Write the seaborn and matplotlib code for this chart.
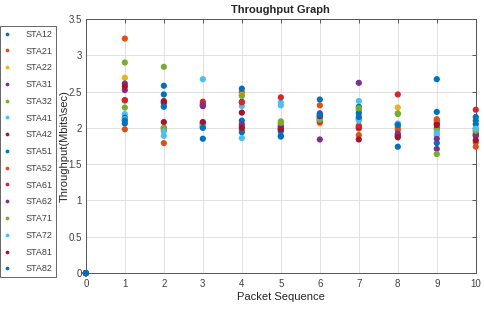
import numpy as np
import pandas as pd
import seaborn as sns
import matplotlib.pyplot as plt

# packet sequence numbers and throughput (Mbits/sec) per station
packet_seq = [0, 1, 2, 3, 4, 5, 6, 7, 8, 9, 10]

sta12 = [0, 2.06, 2.46, 2.01, 2.10, 1.88, 2.39, 2.29, 2.05, 2.67, 2.15]
sta21 = [0, 3.23, 1.79, 2.06, 2.49, 2.03, 2.31, 1.99, 1.97, 2.12, 1.74]
sta22 = [0, 2.69, 2.30, 2.04, 2.45, 2.05, 2.06, 2.22, 2.28, 2.08, 1.95]
sta31 = [0, 2.61, 2.00, 2.33, 2.36, 1.97, 2.20, 2.62, 1.88, 1.71, 1.92]
sta32 = [0, 2.90, 2.84, 2.05, 1.97, 2.09, 2.12, 2.25, 2.19, 1.64, 1.98]
sta41 = [0, 2.19, 1.89, 2.67, 2.30, 2.35, 2.15, 2.37, 2.03, 1.90, 2.00]
sta42 = [0, 2.38, 2.08, 2.30, 2.21, 2.00, 2.13, 2.01, 1.90, 2.06, 1.89]
sta51 = [0, 2.14, 2.58, 1.85, 1.94, 1.95, 2.17, 2.20, 1.74, 1.79, 2.05]
sta52 = [0, 1.98, 1.97, 2.07, 2.02, 1.99, 2.10, 1.90, 2.00, 2.10, 1.80]
sta61 = [0, 2.38, 2.37, 2.36, 2.35, 2.42, 2.08, 2.03, 2.46, 2.00, 2.25]
sta62 = [0, 2.52, 2.34, 2.31, 2.05, 2.02, 1.84, 2.12, 1.92, 1.85, 1.90]
sta71 = [0, 2.28, 2.00, 2.03, 2.44, 2.07, 2.11, 2.27, 2.20, 1.97, 1.96]
sta72 = [0, 2.12, 1.95, 2.02, 1.86, 2.31, 2.14, 2.10, 2.06, 1.93, 1.99]
sta81 = [0, 2.57, 2.36, 2.08, 2.00, 1.98, 2.16, 1.84, 1.87, 2.04, 1.83]
sta82 = [0, 2.10, 2.29, 2.00, 2.54, 1.89, 2.18, 2.15, 2.04, 2.22, 2.10]

stations = ["STA12", "STA21", "STA22", "STA31", "STA32", "STA41", "STA42", "STA51",
            "STA52", "STA61", "STA62", "STA71", "STA72", "STA81", "STA82"]
series = [sta12, sta21, sta22, sta31, sta32, sta41, sta42, sta51,
          sta52, sta61, sta62, sta71, sta72, sta81, sta82]

colors = ["#0072BD", "#D95319", "#EDB120", "#7E2F8E", "#77AC30", "#4DBEEE", "#A2142F",
          "#0072BD", "#D95319", "#D7262B", "#7E2F8E", "#77AC30", "#4DBEEE", "#A2142F",
          "#0072BD"]

rows = []
for name, vals in zip(stations, series):
    for p, v in zip(packet_seq, vals):
        rows.append({"packet": p, "throughput": v, "station": name})
df = pd.DataFrame(rows)

sns.set_style("white")
plt.rcParams['font.family'] = ['Liberation Sans', 'DejaVu Sans']

fig = plt.figure(figsize=(4.85, 3.10), dpi=100)
ax = fig.add_axes([0.177, 0.119, 0.804, 0.82])

sns.scatterplot(data=df, x="packet", y="throughput", hue="station",
                palette=colors, hue_order=stations, s=20, linewidth=0,
                ax=ax, clip_on=False, zorder=3)

ax.set_xlim(0, 10)
ax.set_ylim(0, 3.5)
ax.set_xticks(np.arange(0, 11, 1))
ax.set_yticks(np.arange(0, 3.51, 0.5))
ax.set_yticklabels([f"{v:g}" for v in np.arange(0, 3.51, 0.5)])
ax.grid(True, color="#dcdcdc", linewidth=0.6)
ax.tick_params(direction="in", top=True, right=True, length=3, width=0.6,
               labelsize=7, colors="#404040", pad=3)
ax.tick_params(axis="x", pad=4.5)
for sp in ax.spines.values():
    sp.set_color("#555555")
    sp.set_linewidth(0.7)

ax.set_title("Throughput Graph", fontsize=8, fontweight="bold", pad=4)
ax.set_xlabel("Packet Sequence", fontsize=8, color="#262626", labelpad=2)
ax.set_ylabel(r"Throughput(Mbits\sec)", fontsize=8, color="#262626")
ax.yaxis.set_label_coords(-0.042, 0.5)

handles, labels = ax.get_legend_handles_labels()
ax.legend_.remove()
leg = fig.legend(handles, labels, loc="center left", bbox_to_anchor=(0.0, 0.511),
                 fontsize=6.5, frameon=True, fancybox=False, framealpha=1,
                 edgecolor="#666666", borderaxespad=0, borderpad=0.4,
                 labelspacing=0.86, handlelength=0.8, handletextpad=1.6,
                 markerscale=0.6)
leg.get_frame().set_linewidth(0.7)
for t in leg.get_texts():
    t.set_color("#404040")

fig.savefig("out.png", dpi=100)
